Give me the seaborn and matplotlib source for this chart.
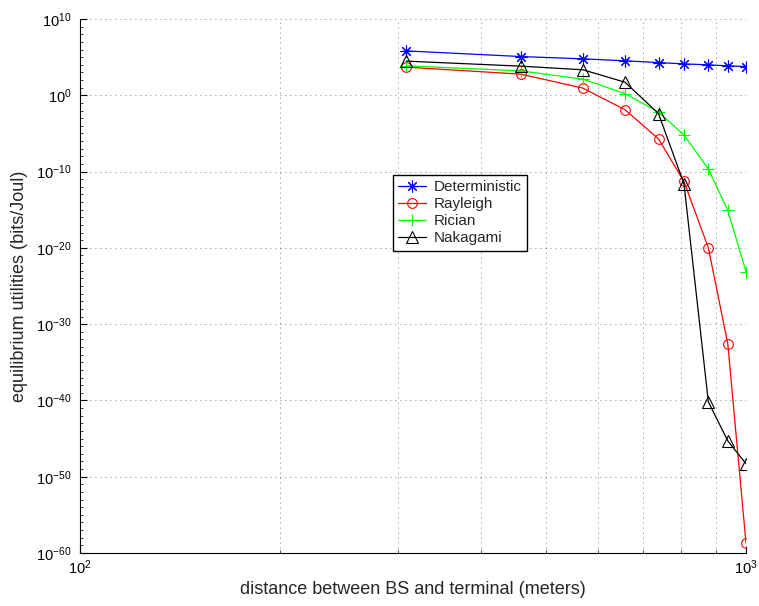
import numpy as np
import pandas as pd
import matplotlib
matplotlib.use("Agg")
import matplotlib.pyplot as plt
import seaborn as sns

# Distance between base station and terminal (meters)
distance = [309, 459, 569, 658, 739, 807, 878, 939, 1000]

# Equilibrium utilities (bits/Joul) per channel model
deterministic = [6.6e5, 1.2e5, 6.0e4, 3.3e4, 1.95e4, 1.3e4, 9.8e3, 7.2e3, 5.9e3]
rayleigh = [4.9e3, 5.9e2, 8.7, 1.3e-2, 1.9e-6, 5e-12, 1e-20, 2.5e-33, 2e-59]
rician = [7.2e3, 1.6e3, 1.3e2, 1.7, 6.3e-3, 6.3e-6, 2.2e-10, 7.9e-16, 7.9e-24]
nakagami = [3.0e4, 6.6e3, 2.2e3, 52, 4.0e-3, 2.5e-12, 6.3e-41, 5e-46, 5e-49]

series_names = ["Deterministic", "Rayleigh", "Rician", "Nakagami"]
series_values = [deterministic, rayleigh, rician, nakagami]

x_ticks = [100, 1000]
x_tick_labels = [r"$10^{2}$", r"$10^{3}$"]
y_exponents = [10, 0, -10, -20, -30, -40, -50, -60]

sns.set_style("ticks")
plt.rcParams["font.family"] = ["Liberation Sans", "DejaVu Sans"]
plt.rcParams["mathtext.fontset"] = "custom"
plt.rcParams["mathtext.rm"] = "Liberation Sans"
plt.rcParams["mathtext.it"] = "Liberation Sans"

styles = {
    "Deterministic": dict(color=(0, 0, 1), marker=(8, 2, 0), markersize=8.5, mfc=(0, 0, 1)),
    "Rayleigh": dict(color=(1, 0, 0), marker="o", markersize=7, mfc="none"),
    "Rician": dict(color=(0, 1, 0), marker="+", markersize=8, mfc="none"),
    "Nakagami": dict(color=(0, 0, 0), marker="^", markersize=8, mfc="none"),
}

fig = plt.figure(figsize=(7.59, 6.06), dpi=100)
ax = fig.add_axes([80 / 759, 53 / 606, 666 / 759, 534 / 606])

for name, vals in zip(series_names, series_values):
    df = pd.DataFrame({"distance": distance, "utility": vals})
    st = styles[name]
    sns.lineplot(
        data=df, x="distance", y="utility", ax=ax, label=name,
        color=st["color"], marker=st["marker"], markersize=st["markersize"],
        markerfacecolor=st["mfc"], markeredgecolor=st["color"],
        markeredgewidth=0.8, linewidth=0.9, estimator=None, sort=False,
    )

ax.set_xscale("log")
ax.set_yscale("log")
ax.set_xlim(100, 1000)
ax.set_ylim(1e-60, 1e10)

ax.set_xticks(x_ticks)
ax.set_xticklabels(x_tick_labels)
ax.set_xticks([k * 100 for k in range(2, 10)], minor=True)
ax.xaxis.set_minor_formatter(matplotlib.ticker.NullFormatter())

ax.set_yticks([10.0 ** e for e in y_exponents])
ax.set_yticklabels([r"$10^{%d}$" % e for e in y_exponents])
ax.set_yticks([10.0 ** e for e in range(-60, 11)], minor=True)
ax.yaxis.set_minor_formatter(matplotlib.ticker.NullFormatter())

ax.tick_params(which="major", direction="in", length=5, width=0.8,
               labelsize=10.5, colors="black")
ax.tick_params(which="major", axis="y", pad=6)
ax.tick_params(which="major", axis="x", pad=4)
ax.tick_params(which="minor", direction="in", length=2.5, width=0.6)

grid_kw = dict(color="black", linewidth=0.6, linestyle=(0, (1, 5)), alpha=0.7)
ax.grid(True, which="major", **grid_kw)
ax.grid(True, which="minor", axis="x", **grid_kw)

for side in ["top", "right"]:
    ax.spines[side].set_visible(False)
for side in ["left", "bottom"]:
    ax.spines[side].set_linewidth(0.8)
    ax.spines[side].set_color("black")

ax.set_xlabel("distance between BS and terminal (meters)", fontsize=13, labelpad=3)
ax.set_ylabel("equilibrium utilities (bits/Joul)", fontsize=13, labelpad=6)

leg = ax.legend(loc="upper left", bbox_to_anchor=(0.47, 0.708), fancybox=False,
                framealpha=1, edgecolor="black", fontsize=11, handlelength=1.8,
                borderpad=0.35, labelspacing=0.2, handletextpad=0.5,
                borderaxespad=0)
leg.get_frame().set_linewidth(1.0)

fig.savefig("out.png", dpi=100)
